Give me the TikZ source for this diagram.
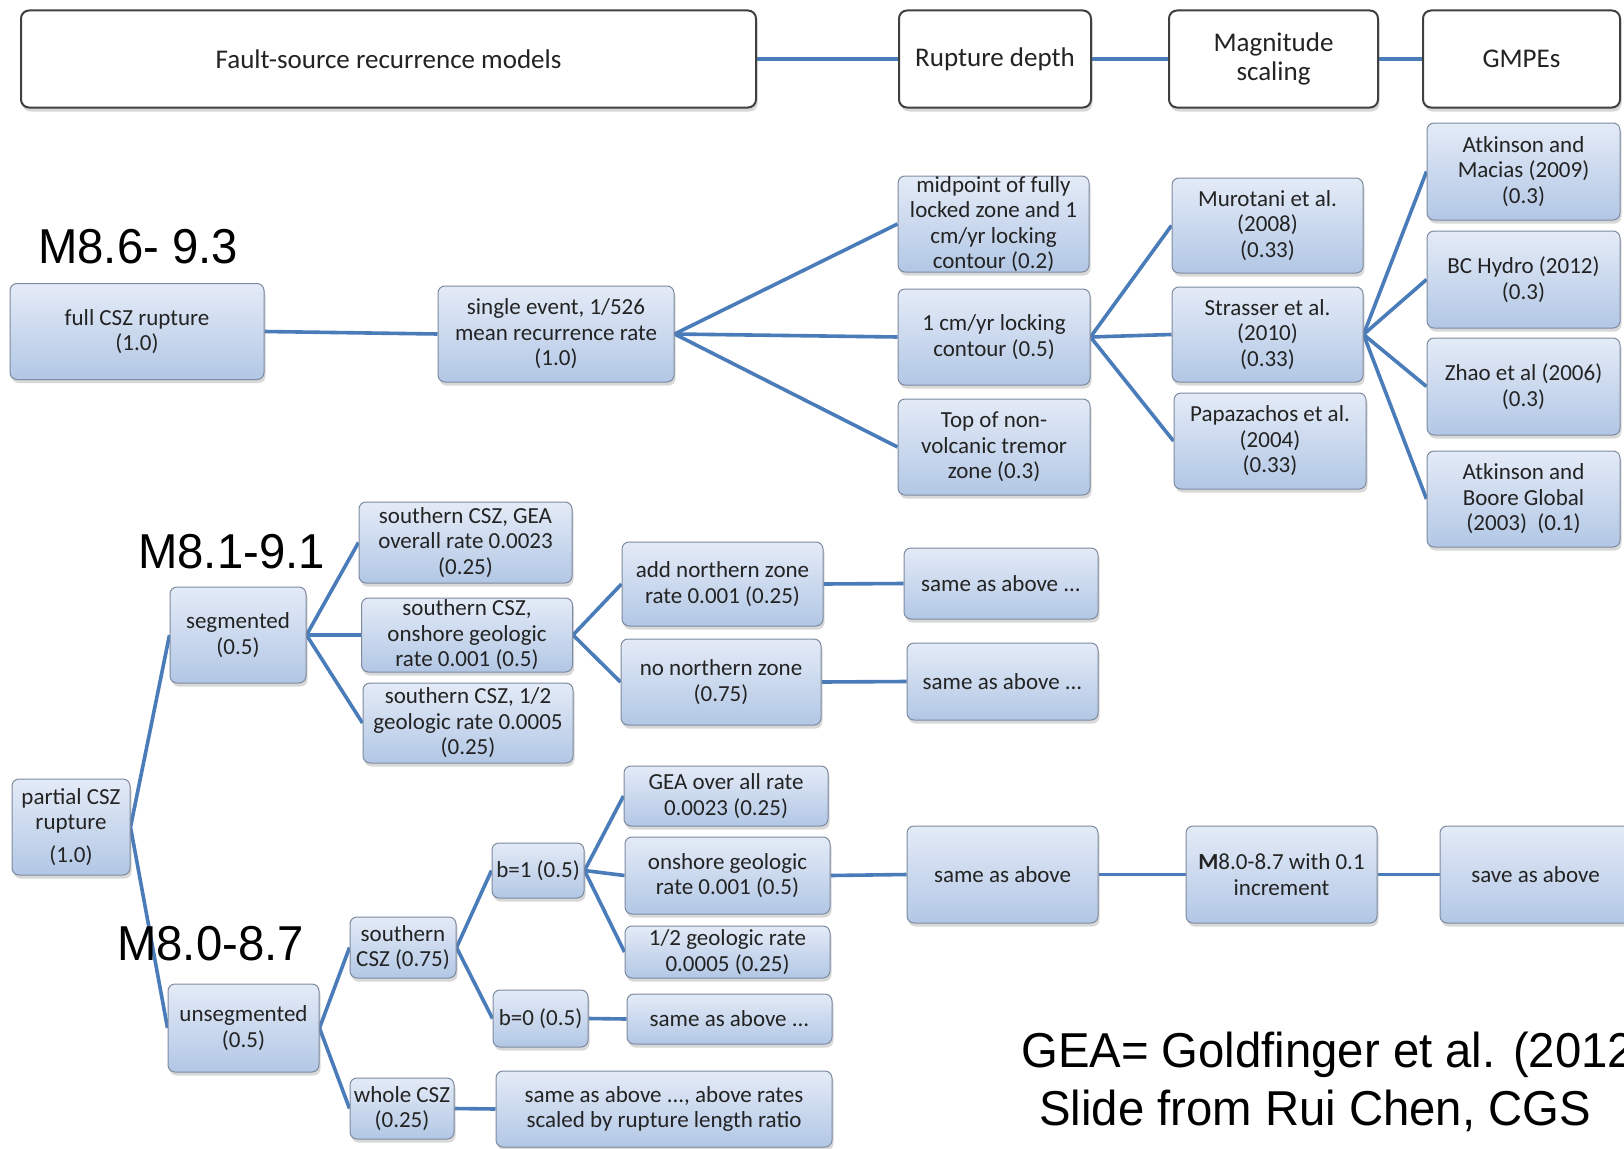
\documentclass[tikz,border=0pt]{standalone}
\usepackage{fontspec}
\usetikzlibrary{shadows}
\newfontfamily\carl{Carlito}
\newfontfamily\libs{Liberation Sans}
\newcommand\boxfont{\carl\fontsize{23}{25.5}\selectfont}
\newcommand\hdfont{\carl\fontsize{27}{29}\selectfont}
\newcommand\bigfont{\libs\fontsize{49}{56}\selectfont}
\newcommand\narrowtext[1]{\scalebox{0.965}[1]{#1}}
\definecolor{boxtop}{RGB}{228,235,247}
\definecolor{boxbot}{RGB}{178,199,229}
\definecolor{bordc}{RGB}{125,138,160}
\definecolor{linec}{RGB}{74,124,186}
\definecolor{txtc}{RGB}{35,35,35}
\pgfdeclarelayer{back}
\pgfdeclarelayer{bg}
\pgfsetlayers{back,bg,main}
\tikzset{
  bx/.style={rounded corners=7pt, draw=bordc, line width=1pt,
    top color=boxtop, bottom color=boxbot, align=center, inner sep=0pt,
    font=\boxfont, text=txtc,
    drop shadow={shadow xshift=1.5pt, shadow yshift=-3.5pt, opacity=0.3}},
  hd/.style={rounded corners=8pt, draw=black!75, line width=2pt, fill=white,
    align=center, inner sep=0pt, font=\hdfont, text=txtc,
    drop shadow={shadow xshift=1.5pt, shadow yshift=-4pt, opacity=0.3}},
  ln/.style={draw=linec, line width=3.6pt},
  big/.style={font=\bigfont, anchor=base west, inner sep=0pt, text=black},
  sz/.style 2 args={minimum width=#1pt, minimum height=#2pt}
}
\begin{document}
\begin{tikzpicture}[x=1pt,y=-1pt]
\useasboundingbox (0,0) rectangle (1624,1148);
\clip (0,0) rectangle (1624,1148);
\begin{pgfonlayer}{back}
\fill[white] (0,0) rectangle (1624,1148);
\end{pgfonlayer}
% headers
\node[hd, sz={735}{97}] (hdr1) at (388.5,59) {Fault-source recurrence models};
\node[hd, sz={192}{97}] (hdr2) at (995,59) {Rupture depth};
\node[hd, sz={209}{97}] (hdr3) at (1273.5,59) {Magnitude\\scaling};
\node[hd, sz={197}{97}] (hdr4) at (1521.5,59) {GMPEs};
% full rupture branch
\node[bx, sz={254}{96}] (full) at (137,331.5) {full CSZ rupture\\(1.0)};
\node[bx, sz={236}{96}] (single) at (556,334) {single event, 1/526\\mean recurrence rate\\(1.0)};
\node[bx, sz={191}{96}] (mid) at (993.5,224) {midpoint of fully\\locked zone and 1\\cm/yr locking\\contour (0.2)};
\node[bx, sz={192}{96}] (onecm) at (994,337) {1 cm/yr locking\\contour (0.5)};
\node[bx, sz={192}{96}] (topnv) at (994,447) {Top of non-\\volcanic tremor\\zone (0.3)};
\node[bx, sz={191}{95}] (muro) at (1267.5,225.5) {Murotani et al.\\(2008)\\(0.33)};
\node[bx, sz={191}{95}] (stras) at (1267.5,334.5) {Strasser et al.\\(2010)\\(0.33)};
\node[bx, sz={192}{96}] (papa) at (1270,441) {Papazachos et al.\\(2004)\\(0.33)};
\node[bx, sz={193}{97}] (am) at (1523.5,171.5) {Atkinson and\\Macias (2009)\\(0.3)};
\node[bx, sz={193}{97}] (bch) at (1523.5,279.5) {BC Hydro (2012)\\(0.3)};
\node[bx, sz={193}{97}] (zhao) at (1523.5,386.5) {Zhao et al (2006)\\(0.3)};
\node[bx, sz={193}{96}] (ab) at (1523.5,499) {Atkinson and\\Boore Global\\(2003)~~(0.1)};
% segmented branch
\node[bx, sz={118}{96}] (partial) at (71,827) {partial CSZ\\rupture\\[7pt](1.0)};
\node[bx, sz={136}{96}] (seg) at (238,635) {segmented\\(0.5)};
\node[bx, sz={213}{81}] (sgea) at (465.5,542.5) {southern CSZ, GEA\\overall rate 0.0023\\(0.25)};
\node[bx, sz={211}{74}] (sons) at (467,635) {southern CSZ,\\onshore geologic\\rate 0.001 (0.5)};
\node[bx, sz={210}{80}] (shalf) at (468,723) {southern CSZ, 1/2\\geologic rate 0.0005\\(0.25)};
\node[bx, sz={201}{84}] (addn) at (722.5,584) {add northern zone\\rate 0.001 (0.25)};
\node[bx, sz={200}{86}] (non) at (721,682) {no northern zone\\(0.75)};
\node[bx, sz={194}{71}] (same1) at (1001,583.5) {same as above ...};
\node[bx, sz={191}{77}] (same2) at (1002.5,681.5) {same as above ...};
% unsegmented branch
\node[bx, sz={151}{88}] (unseg) at (243.5,1028) {unsegmented\\(0.5)};
\node[bx, sz={106}{61}] (south) at (403,947.5) {southern\\CSZ (0.75)};
\node[bx, sz={104}{61}] (whole) at (402,1108.5) {whole CSZ\\(0.25)};
\node[bx, sz={92}{55}] (b1) at (538,870.5) {b=1 (0.5)};
\node[bx, sz={95}{57}] (b0) at (540.5,1018.5) {b=0 (0.5)};
\node[bx, sz={204}{60}] (geaall) at (726,796) {GEA over all rate\\0.0023 (0.25)};
\node[bx, sz={205}{77}] (ons2) at (727.5,875.5) {onshore geologic\\rate 0.001 (0.5)};
\node[bx, sz={205}{52}] (hgeo) at (727.5,952) {1/2 geologic rate\\0.0005 (0.25)};
\node[bx, sz={205}{50}] (sb0) at (729.5,1019) {same as above ...};
\node[bx, sz={336}{76}] (swhole) at (664,1109) {same as above ..., above rates\\scaled by rupture length ratio};
\node[bx, sz={191}{97}] (s3) at (1002.5,874.5) {same as above};
\node[bx, sz={191}{97}] (m80) at (1281.5,874.5) {\textbf{M}8.0-8.7 with 0.1\\increment};
\node[bx, sz={191}{97}] (save) at (1535.5,874.5) {save as above};
% connectors
\begin{pgfonlayer}{bg}
\draw[ln] (hdr1.east) -- (hdr2.west);
\draw[ln] (hdr2.east) -- (hdr3.west);
\draw[ln] (hdr3.east) -- (hdr4.west);
\draw[ln] (full.east) -- (single.west);
\foreach \t in {mid,onecm,topnv} \draw[ln] (single.east) -- (\t.west);
\foreach \t in {muro,stras,papa} \draw[ln] (onecm.east) -- (\t.west);
\foreach \t in {am,bch,zhao,ab} \draw[ln] (stras.east) -- (\t.west);
\foreach \t in {seg,unseg} \draw[ln] (partial.east) -- (\t.west);
\foreach \t in {sgea,sons,shalf} \draw[ln] (seg.east) -- (\t.west);
\foreach \t in {addn,non} \draw[ln] (sons.east) -- (\t.west);
\draw[ln] (addn.east) -- (same1.west);
\draw[ln] (non.east) -- (same2.west);
\foreach \t in {south,whole} \draw[ln] (unseg.east) -- (\t.west);
\foreach \t in {b1,b0} \draw[ln] (south.east) -- (\t.west);
\foreach \t in {geaall,ons2,hgeo} \draw[ln] (b1.east) -- (\t.west);
\draw[ln] (ons2.east) -- (s3.west);
\draw[ln] (s3.east) -- (m80.west);
\draw[ln] (m80.east) -- (save.west);
\draw[ln] (b0.east) -- (sb0.west);
\draw[ln] (whole.east) -- (swhole.west);
\end{pgfonlayer}
% big labels
\node[big] (lab1) at (38,263) {\narrowtext{M8.6- 9.3}};
\node[big] (lab2) at (138,568) {\narrowtext{M8.1-9.1}};
\node[big] (lab3) at (117,960) {\narrowtext{M8.0-8.7}};
\node[big] (gea) at (1021,1067) {\narrowtext{GEA= Goldfinger et al. (2012}};
\node[big] (slide) at (1039,1125) {\narrowtext{Slide from Rui Chen, CGS}};
\end{tikzpicture}
\end{document}
